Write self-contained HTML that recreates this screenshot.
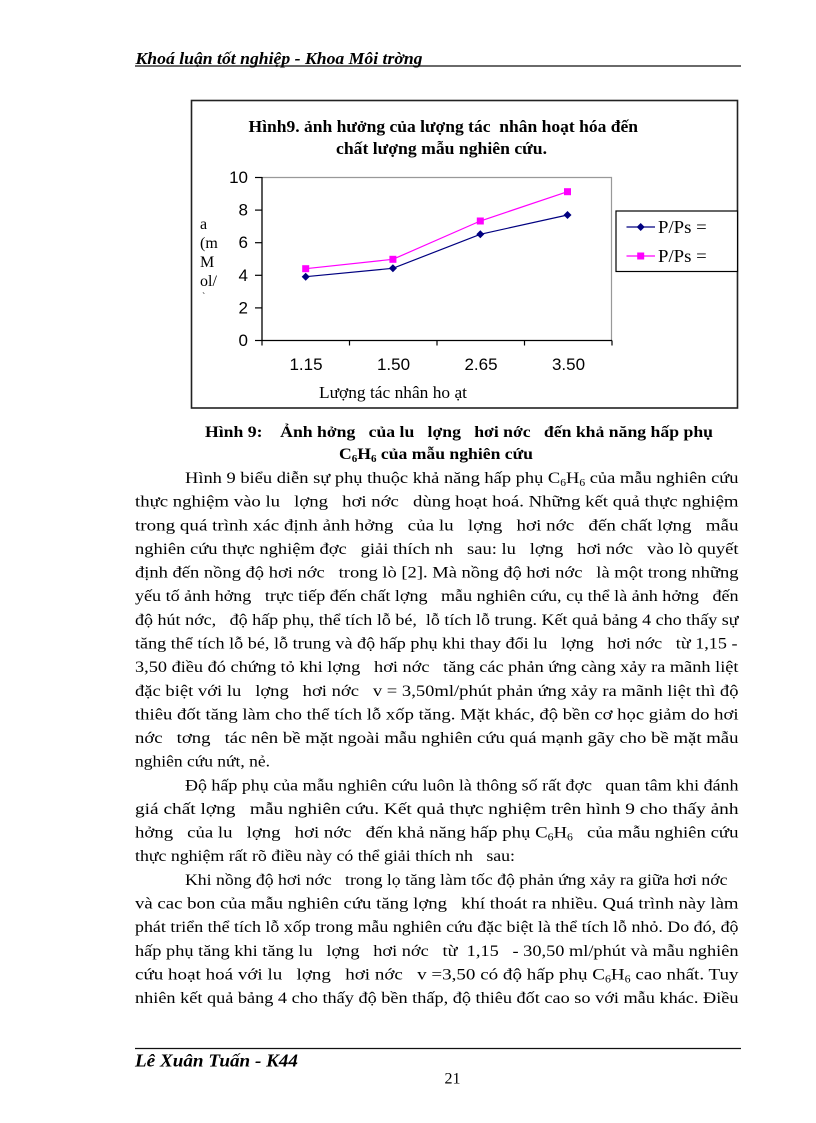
<!DOCTYPE html>
<html><head><meta charset="utf-8">
<style>
html,body{margin:0;padding:0;background:#fff;}
svg{display:block;}
text{white-space:pre;}
.s{font-family:"Liberation Serif","DejaVu Serif",serif;fill:#000;}
.a{font-family:"Liberation Sans","DejaVu Sans",sans-serif;fill:#000;}
</style></head>
<body>
<svg width="816" height="1123" viewBox="0 0 816 1123" xmlns="http://www.w3.org/2000/svg" xml:space="preserve">
<rect width="816" height="1123" fill="#fff"/>
<!-- Header -->
<text class="s" x="135.5" y="64" font-size="17" font-weight="bold" font-style="italic" textLength="287" lengthAdjust="spacingAndGlyphs">Khoá luận tốt nghiệp - Khoa Môi trờng</text>
<line x1="135" y1="66" x2="741" y2="66" stroke="#111" stroke-width="1.3"/>

<!-- Chart box -->
<rect x="191.5" y="100.5" width="546" height="307.5" fill="#fff" stroke="#222" stroke-width="1.6"/>
<text class="s" x="248.5" y="132" font-size="16.5" font-weight="bold" textLength="389.5" lengthAdjust="spacingAndGlyphs">Hình9. ảnh hưởng của lượng tác  nhân hoạt hóa đến</text>
<text class="s" x="336" y="154" font-size="16.5" font-weight="bold" textLength="211" lengthAdjust="spacingAndGlyphs">chất lượng mẫu nghiên cứu.</text>

<!-- plot area -->
<polyline points="262,177.5 611.5,177.5 611.5,340.5" fill="none" stroke="#999" stroke-width="1.2"/>
<line x1="262" y1="177" x2="262" y2="341" stroke="#000" stroke-width="1.3"/>
<line x1="262" y1="340.5" x2="612" y2="340.5" stroke="#000" stroke-width="1.3"/>
<!-- y ticks -->
<g stroke="#000" stroke-width="1.2">
<line x1="255" y1="177.5" x2="262" y2="177.5"/>
<line x1="255" y1="210.1" x2="262" y2="210.1"/>
<line x1="255" y1="242.7" x2="262" y2="242.7"/>
<line x1="255" y1="275.3" x2="262" y2="275.3"/>
<line x1="255" y1="307.9" x2="262" y2="307.9"/>
<line x1="255" y1="340.5" x2="262" y2="340.5"/>
<line x1="262" y1="340.5" x2="262" y2="345.5"/>
<line x1="349.5" y1="340.5" x2="349.5" y2="345.5"/>
<line x1="437" y1="340.5" x2="437" y2="345.5"/>
<line x1="524.5" y1="340.5" x2="524.5" y2="345.5"/>
<line x1="612" y1="340.5" x2="612" y2="345.5"/>
</g>
<g class="a" font-size="17" text-anchor="end">
<text x="248" y="183">10</text>
<text x="248" y="215.6">8</text>
<text x="248" y="248.2">6</text>
<text x="248" y="280.8">4</text>
<text x="248" y="313.4">2</text>
<text x="248" y="346">0</text>
</g>
<g class="a" font-size="17" text-anchor="middle">
<text x="306" y="370">1.15</text>
<text x="393.5" y="370">1.50</text>
<text x="481" y="370">2.65</text>
<text x="568.5" y="370">3.50</text>
</g>
<text class="s" x="319" y="398" font-size="17" textLength="148" lengthAdjust="spacingAndGlyphs">Lượng tác nhân ho ạt</text>
<!-- y label -->
<g class="s" font-size="16">
<text x="200" y="229">a</text>
<text x="200" y="248">(m</text>
<text x="200" y="267">M</text>
<text x="200" y="286">ol/</text>
<text x="202" y="300" font-size="10">`</text>
</g>

<!-- series -->
<polyline points="305.7,276.7 392.9,268.3 480.3,234.3 567.5,215" fill="none" stroke="#000080" stroke-width="1.2"/>
<polyline points="305.7,268.7 392.9,259.3 480.3,221 567.5,191.7" fill="none" stroke="#ff00ff" stroke-width="1.2"/>
<g fill="#000080">
<polygon points="305.7,272.7 309.7,276.7 305.7,280.7 301.7,276.7"/>
<polygon points="392.9,264.3 396.9,268.3 392.9,272.3 388.9,268.3"/>
<polygon points="480.3,230.3 484.3,234.3 480.3,238.3 476.3,234.3"/>
<polygon points="567.5,211 571.5,215 567.5,219 563.5,215"/>
</g>
<g fill="#ff00ff">
<rect x="302.2" y="265.2" width="7" height="7"/>
<rect x="389.4" y="255.8" width="7" height="7"/>
<rect x="476.8" y="217.5" width="7" height="7"/>
<rect x="564" y="188.2" width="7" height="7"/>
</g>

<!-- legend -->
<rect x="616" y="211" width="121.5" height="60.5" fill="#fff" stroke="#000" stroke-width="1.2"/>
<line x1="626.5" y1="227" x2="655" y2="227" stroke="#000080" stroke-width="1.2"/>
<polygon points="640.7,223 644.7,227 640.7,231 636.7,227" fill="#000080"/>
<line x1="626.5" y1="256" x2="655" y2="256" stroke="#ff00ff" stroke-width="1.2"/>
<rect x="637.2" y="252.5" width="7" height="7" fill="#ff00ff"/>
<text class="s" x="658" y="233" font-size="17.5" textLength="48.7" lengthAdjust="spacingAndGlyphs">P/Ps =</text>
<text class="s" x="658" y="262" font-size="17.5" textLength="48.7" lengthAdjust="spacingAndGlyphs">P/Ps =</text>

<!-- caption -->
<text class="s" x="205" y="437" font-size="16" font-weight="bold" textLength="508" lengthAdjust="spacingAndGlyphs">Hình 9:    Ảnh hởng   của lu   lợng   hơi nớc   đến khả năng hấp phụ</text>
<text class="s" x="339" y="459" font-size="16" font-weight="bold" textLength="194" lengthAdjust="spacingAndGlyphs">C<tspan font-size="10" dy="3">6</tspan><tspan dy="-3">H</tspan><tspan font-size="10" dy="3">6</tspan><tspan dy="-3"> của mẫu nghiên cứu</tspan></text>

<!-- body -->
<g class="s" font-size="16">
<text x="185" y="483" textLength="553.5" lengthAdjust="spacingAndGlyphs">Hình 9 biểu diễn sự phụ thuộc khả năng hấp phụ C<tspan font-size="10" dy="3">6</tspan><tspan dy="-3">H</tspan><tspan font-size="10" dy="3">6</tspan><tspan dy="-3"> của mẫu nghiên cứu</tspan></text>
<text x="135" y="506.6" textLength="603.5" lengthAdjust="spacingAndGlyphs">thực nghiệm vào lu   lợng   hơi nớc   dùng hoạt hoá. Những kết quả thực nghiệm</text>
<text x="135" y="530.3" textLength="603.5" lengthAdjust="spacingAndGlyphs">trong quá trình xác định ảnh hởng   của lu   lợng   hơi nớc   đến chất lợng   mẫu</text>
<text x="135" y="553.9" textLength="603.5" lengthAdjust="spacingAndGlyphs">nghiên cứu thực nghiệm đợc   giải thích nh   sau: lu   lợng   hơi nớc   vào lò quyết</text>
<text x="135" y="577.6" textLength="603.5" lengthAdjust="spacingAndGlyphs">định đến nồng độ hơi nớc   trong lò [2]. Mà nồng độ hơi nớc   là một trong những</text>
<text x="135" y="601.2" textLength="603.5" lengthAdjust="spacingAndGlyphs">yếu tố ảnh hởng   trực tiếp đến chất lợng   mẫu nghiên cứu, cụ thể là ảnh hởng   đến</text>
<text x="135" y="624.8" textLength="603.5" lengthAdjust="spacingAndGlyphs">độ hút nớc,   độ hấp phụ, thể tích lỗ bé,  lỗ tích lỗ trung. Kết quả bảng 4 cho thấy sự</text>
<text x="135" y="648.5" textLength="602.5" lengthAdjust="spacingAndGlyphs">tăng thể tích lỗ bé, lỗ trung và độ hấp phụ khi thay đổi lu   lợng   hơi nớc   từ 1,15 -</text>
<text x="135" y="672.1" textLength="603.5" lengthAdjust="spacingAndGlyphs">3,50 điều đó chứng tỏ khi lợng   hơi nớc   tăng các phản ứng càng xảy ra mãnh liệt</text>
<text x="135" y="695.8" textLength="603.5" lengthAdjust="spacingAndGlyphs">đặc biệt với lu   lợng   hơi nớc   v = 3,50ml/phút phản ứng xảy ra mãnh liệt thì độ</text>
<text x="135" y="719.4" textLength="603.5" lengthAdjust="spacingAndGlyphs">thiêu đốt tăng làm cho thể tích lỗ xốp tăng. Mặt khác, độ bền cơ học giảm do hơi</text>
<text x="135" y="743" textLength="603.5" lengthAdjust="spacingAndGlyphs">nớc   tơng   tác nên bề mặt ngoài mẫu nghiên cứu quá mạnh gãy cho bề mặt mẫu</text>
<text x="135" y="766.7" textLength="135" lengthAdjust="spacingAndGlyphs">nghiên cứu nứt, nẻ.</text>
<text x="185" y="790.3" textLength="553.5" lengthAdjust="spacingAndGlyphs">Độ hấp phụ của mẫu nghiên cứu luôn là thông số rất đợc   quan tâm khi đánh</text>
<text x="135" y="814" textLength="603.5" lengthAdjust="spacingAndGlyphs">giá chất lợng   mẫu nghiên cứu. Kết quả thực nghiệm trên hình 9 cho thấy ảnh</text>
<text x="135" y="837.6" textLength="603.5" lengthAdjust="spacingAndGlyphs">hởng   của lu   lợng   hơi nớc   đến khả năng hấp phụ C<tspan font-size="10" dy="3">6</tspan><tspan dy="-3">H</tspan><tspan font-size="10" dy="3">6</tspan><tspan dy="-3">   của mẫu nghiên cứu</tspan></text>
<text x="135" y="861.2" textLength="380" lengthAdjust="spacingAndGlyphs">thực nghiệm rất rõ điều này có thể giải thích nh   sau:</text>
<text x="185" y="884.9" textLength="542.5" lengthAdjust="spacingAndGlyphs">Khi nồng độ hơi nớc   trong lọ tăng làm tốc độ phản ứng xảy ra giữa hơi nớc</text>
<text x="135" y="908.5" textLength="603.5" lengthAdjust="spacingAndGlyphs">và cac bon của mẫu nghiên cứu tăng lợng   khí thoát ra nhiều. Quá trình này làm</text>
<text x="135" y="932.2" textLength="603.5" lengthAdjust="spacingAndGlyphs">phát triển thể tích lỗ xốp trong mẫu nghiên cứu đặc biệt là thể tích lỗ nhỏ. Do đó, độ</text>
<text x="135" y="955.8" textLength="603.5" lengthAdjust="spacingAndGlyphs">hấp phụ tăng khi tăng lu   lợng   hơi nớc   từ  1,15   - 30,50 ml/phút và mẫu nghiên</text>
<text x="135" y="979.4" textLength="603.5" lengthAdjust="spacingAndGlyphs">cứu hoạt hoá với lu   lợng   hơi nớc   v =3,50 có độ hấp phụ C<tspan font-size="10" dy="3">6</tspan><tspan dy="-3">H</tspan><tspan font-size="10" dy="3">6</tspan><tspan dy="-3"> cao nhất. Tuy</tspan></text>
<text x="135" y="1003.1" textLength="603.5" lengthAdjust="spacingAndGlyphs">nhiên kết quả bảng 4 cho thấy độ bền thấp, độ thiêu đốt cao so với mẫu khác. Điều</text>
</g>

<!-- footer -->
<line x1="135" y1="1048.5" x2="741" y2="1048.5" stroke="#111" stroke-width="1.2"/>
<text class="s" x="135" y="1066.5" font-size="18" font-weight="bold" font-style="italic" textLength="163" lengthAdjust="spacingAndGlyphs">Lê Xuân Tuấn - K44</text>
<text class="s" x="452.5" y="1083.5" font-size="16" text-anchor="middle">21</text>
</svg>
</body></html>
